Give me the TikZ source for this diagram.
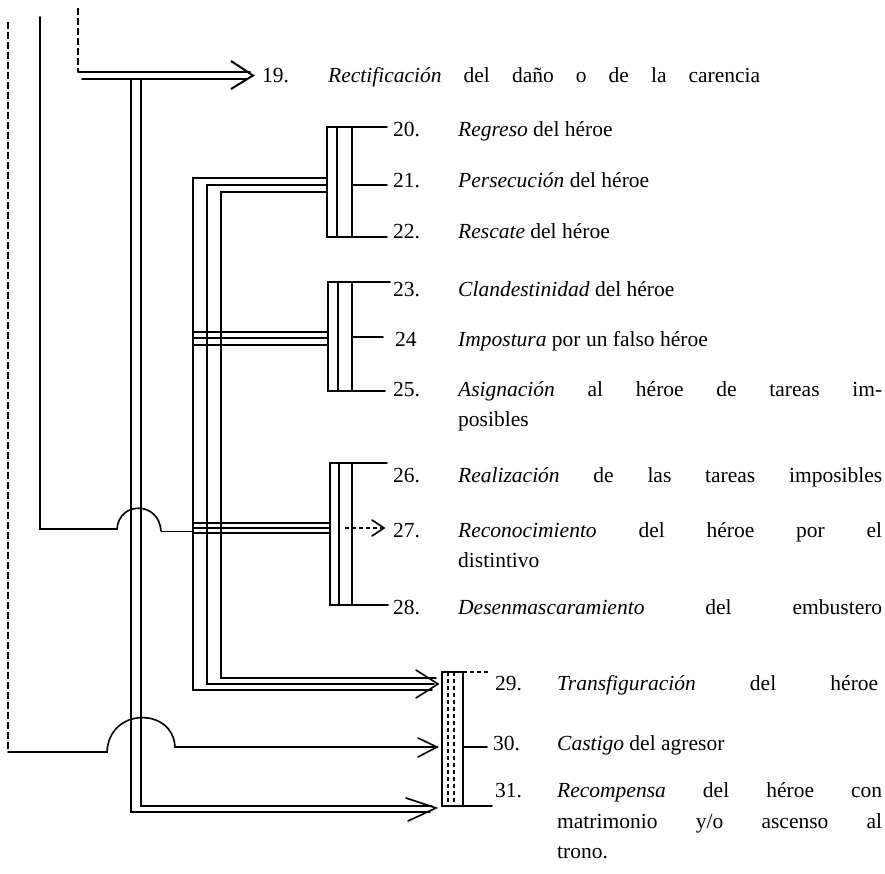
\documentclass[tikz,border=0pt]{standalone}
\usepackage{fontspec}
\setmainfont{Liberation Serif}
\newcommand\jline[2]{\makebox[#1][s]{#2}}
\begin{document}
\begin{tikzpicture}[x=1pt,y=-1pt,
  ln/.style={line width=1.6pt, line cap=round, line join=miter},
  thn/.style={line width=1.0pt},
  dsh/.style={line width=1.2pt, dash pattern=on 7pt off 3pt},
  dsha/.style={line width=1.2pt, dash pattern=on 4pt off 3pt},
  lbl/.style={anchor=base west, inner sep=0pt, font=\fontsize{21.5}{30}\selectfont},
]
\useasboundingbox (0,0) rectangle (885,874);
\fill[white] (0,0) rectangle (885,874);

% ---------- texts ----------
\node[lbl] (n19) at (262,83) {19.};
\node[lbl] (t19) at (328,83) {\jline{432pt}{\textit{Rectificación} del daño o de la carencia}};
\node[lbl] (n20) at (393,137) {20.};
\node[lbl] (t20) at (458,137) {\textit{Regreso} del héroe};
\node[lbl] (n21) at (393,188) {21.};
\node[lbl] (t21) at (458,188) {\textit{Persecución} del héroe};
\node[lbl] (n22) at (393,239) {22.};
\node[lbl] (t22) at (458,239) {\textit{Rescate} del héroe};
\node[lbl] (n23) at (393,297) {23.};
\node[lbl] (t23) at (458,297) {\textit{Clandestinidad} del héroe};
\node[lbl] (n24) at (395,346) {24};
\node[lbl] (t24) at (458,346) {\textit{Impostura} por un falso héroe};
\node[lbl] (n25) at (393,396) {25.};
\node[lbl] (t25) at (458,396) {\jline{424pt}{\textit{Asignación} al héroe de tareas im-}};
\node[lbl] (t25b) at (458,426) {posibles};
\node[lbl] (n26) at (393,482) {26.};
\node[lbl] (t26) at (458,482) {\jline{424pt}{\textit{Realización} de las tareas imposibles}};
\node[lbl] (n27) at (393,537) {27.};
\node[lbl] (t27) at (458,537) {\jline{424pt}{\textit{Reconocimiento} del héroe por el}};
\node[lbl] (t27b) at (458,567) {distintivo};
\node[lbl] (n28) at (393,614) {28.};
\node[lbl] (t28) at (458,614) {\jline{424pt}{\textit{Desenmascaramiento} del embustero}};
\node[lbl] (n29) at (495,690) {29.};
\node[lbl] (t29) at (557,690) {\jline{321pt}{\textit{Transfiguración} del héroe}};
\node[lbl] (n30) at (493,750) {30.};
\node[lbl] (t30) at (557,750) {\textit{Castigo} del agresor};
\node[lbl] (n31) at (495,797) {31.};
\node[lbl] (t31) at (557,797) {\jline{325pt}{\textit{Recompensa} del héroe con}};
\node[lbl] (t31b) at (557,828) {\jline{325pt}{matrimonio y/o ascenso al}};
\node[lbl] (t31c) at (557,858) {trono.};

% ---------- coordinates ----------
\coordinate (a1) at (8,22);   \coordinate (a2) at (8,752);
\coordinate (a3) at (107,752); \coordinate (a4) at (175,747);
\coordinate (a5) at (437,747);
\coordinate (b1) at (40,17);  \coordinate (b2) at (40,529);
\coordinate (b3) at (117,529); \coordinate (b4) at (161,531);
\coordinate (b5) at (193,531);
\coordinate (c1) at (78,8);   \coordinate (c2) at (78,72);
\coordinate (c3) at (250,72); \coordinate (c4) at (82,79);
\coordinate (c5) at (247,79); \coordinate (c6) at (253,75.5);

% ---------- left dashed line with hump to 30 ----------
\draw[dsh] (a1) -- (a2);
\draw[ln] (a2) -- (a3) .. controls (109,707) and (173,707) .. (a4) -- (a5);
\draw[ln] (418,738) -- (a5) -- (418,757);

% ---------- solid line with hump to 27 ----------
\draw[ln] (b1) -- (b2) -- (b3) .. controls (119,501) and (159,501) .. (b4);
\draw[thn] (b4) -- (b5);

% ---------- dashed line and double arrow to 19 ----------
\draw[dsh] (c1) -- (c2);
\draw[ln] (c2) -- (c3);
\draw[ln] (c4) -- (c5);
\draw[line width=2pt] (231,61) -- (c6) -- (231,89);

% ---------- double vertical down to 31 ----------
\coordinate (d1) at (131,79); \coordinate (d2) at (131,812); \coordinate (d3) at (430,812);
\coordinate (e1) at (141,79); \coordinate (e2) at (141,806); \coordinate (e3) at (432,806);
\draw[ln] (d1) -- (d2) -- (d3);
\draw[ln] (e1) -- (e2) -- (e3);
\draw[ln] (406,798) -- (436,808) -- (408,821);

% ---------- triple vertical ----------
\coordinate (f1) at (327,178); \coordinate (f2) at (193,178); \coordinate (f3) at (193,690); \coordinate (f4) at (432,690);
\coordinate (g1) at (327,185); \coordinate (g2) at (207,185); \coordinate (g3) at (207,684); \coordinate (g4) at (434,684);
\coordinate (h1) at (327,192); \coordinate (h2) at (221,192); \coordinate (h3) at (221,678); \coordinate (h4) at (436,678);
\draw[ln] (f1) -- (f2) -- (f3) -- (f4);
\draw[ln] (g1) -- (g2) -- (g3) -- (g4);
\draw[ln] (h1) -- (h2) -- (h3) -- (h4);
\draw[ln] (416,670) -- (438,684) -- (416,698);
\foreach \yy in {332,338,345} {\draw[ln] (193,\yy) -- (328,\yy);}
\foreach \yy in {523,528,533} {\draw[ln] (193,\yy) -- (330,\yy);}

% ---------- bracket 20-22 ----------
\draw[ln] (387,127) -- (327,127) -- (327,237) -- (387,237);
\draw[ln] (337,127) -- (337,237);
\draw[ln] (352,127) -- (352,237);
\draw[ln] (352,185) -- (387,185);

% ---------- bracket 23-25 ----------
\draw[ln] (390,282) -- (328,282) -- (328,391) -- (385,391);
\draw[ln] (338,282) -- (338,391);
\draw[ln] (352,282) -- (352,391);
\draw[ln] (352,337) -- (383,337);

% ---------- bracket 26-28 ----------
\draw[ln] (387,463) -- (330,463) -- (330,605) -- (388,605);
\draw[ln] (339,463) -- (339,605);
\draw[ln] (352,463) -- (352,605);
\coordinate (k1) at (345,528); \coordinate (k2) at (384,528);
\draw[dsha] (k1) -- (k2);
\draw[ln] (372,520) -- (k2) -- (372,536);

% ---------- bracket 29-31 ----------
\draw[ln] (463,672) -- (442,672) -- (442,806) -- (463,806);
\draw[dsha] (448,672) -- (448,806);
\draw[dsha] (454,672) -- (454,806);
\draw[ln] (463,672) -- (463,806);
\draw[dsha] (463,672) -- (490,672);
\draw[ln] (463,747) -- (487,747);
\draw[ln] (463,806) -- (492,806);
\end{tikzpicture}
\end{document}
